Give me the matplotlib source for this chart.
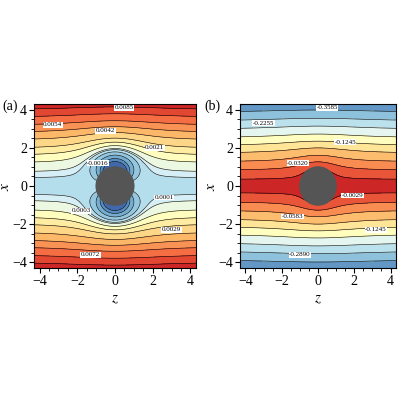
import numpy as np
import matplotlib
matplotlib.use("Agg")
import matplotlib.pyplot as plt
from matplotlib.patches import Circle

plt.rcParams['font.family'] = ['Liberation Serif', 'DejaVu Serif']
plt.rcParams['mathtext.fontset'] = 'stix'

# contour levels
levels_a = [-0.0050, -0.0023, -0.0016, -0.0009, -0.0003, 0.0001, 0.0003, 0.0008,
            0.0014, 0.0021, 0.0031, 0.0042, 0.0054, 0.0069, 0.0085, 0.0110]
levels_b = [-0.45, -0.3585, -0.2890, -0.2255, -0.1720, -0.1245, -0.0880,
            -0.0583, -0.0320, -0.0140, -0.0029, 0.01]
labels_a = [(0.0085, 0.5, 4.1), (0.0054, -3.3, 3.2), (0.0042, -0.5, 2.9),
            (0.0021, 2.1, 2.0), (-0.0016, -0.9, 1.2), (0.0003, -1.8, -1.3),
            (0.0001, 2.6, -0.6), (0.0029, 3.0, -2.3), (0.0072, -1.3, -3.6)]
labels_b = [(-0.3585, 0.5, 4.1), (-0.2255, -3.0, 3.3), (-0.1245, 1.5, 2.3),
            (-0.0320, -1.1, 1.2), (-0.0029, 1.9, -0.5), (-0.0583, -1.4, -1.6),
            (-0.1245, 3.2, -2.3), (-0.2890, -1.0, -3.6)]

z = np.linspace(-4.3, 4.3, 300)
x = np.linspace(-4.3, 4.3, 300)
Z, X = np.meshgrid(z, x)
R2 = np.maximum(Z**2 + X**2, 1.0)
fa = 0.00053 * X**2 - 0.0045 * X**2 / R2**1.7
fb = -0.0195 * (X * (1 - 0.55 / R2))**2 - 0.0005

fig = plt.figure(figsize=(4, 4), dpi=100)
axa = fig.add_axes([0.085, 0.33, 0.405, 0.41])
axb = fig.add_axes([0.6, 0.33, 0.39, 0.41])

cmap = plt.get_cmap('RdYlBu_r')
for ax, f, lv, labs in [(axa, fa, levels_a, labels_a), (axb, fb, levels_b, labels_b)]:
    n = len(lv) - 1
    cols = [cmap(0.08 + 0.84 * i / (n - 1)) for i in range(n)]
    ax.contourf(Z, X, f, levels=lv, colors=cols)
    ax.contour(Z, X, f, levels=lv[1:-1], colors='k', linewidths=0.4,
               linestyles='solid')
    for val, lz, lx in labs:
        ax.text(lz, lx, f'{val:.4f}', fontsize=5, ha='center', va='center',
                bbox=dict(fc='white', ec='none', pad=0.3))
    ax.add_patch(Circle((0, 0), 1, color='#555555', zorder=5))
    ax.set_xlim(-4.3, 4.3)
    ax.set_ylim(-4.3, 4.3)
    ax.set_xticks([-4, -2, 0, 2, 4])
    ax.set_yticks([-4, -2, 0, 2, 4])
    ax.minorticks_on()
    ax.tick_params(labelsize=10, pad=1.5)
    ax.set_xlabel('$z$', fontsize=11)
    ax.set_ylabel('$x$', fontsize=11, labelpad=0)

fig.text(0.005, 0.735, '(a)', fontsize=10, va='center')
fig.text(0.51, 0.735, '(b)', fontsize=10, va='center')
fig.savefig('out.png', dpi=100)
